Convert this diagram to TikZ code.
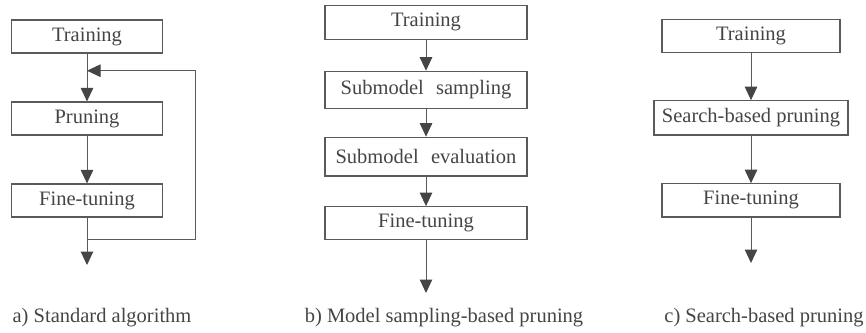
\documentclass[tikz,border=0pt]{standalone}
\usepackage{fontspec}
\setmainfont{Liberation Serif}
\newfontfamily\figserif{Liberation Serif}
\usetikzlibrary{arrows.meta}
\definecolor{inkgray}{HTML}{454545}
\definecolor{linegray}{HTML}{5A5A5A}
\begin{document}
\begin{tikzpicture}[x=1pt,y=-1pt,
  stepbox/.style={draw=linegray,line width=1.2pt,inner sep=0pt,text=inkgray,
    font=\figserif\fontsize{20.5}{22}\selectfont},
  flow/.style={draw=linegray,line width=1pt,
    -{Triangle[length=13.5pt,width=12.5pt,fill=inkgray,color=inkgray]}},
  caption/.style={text=inkgray,font=\figserif\fontsize{20.5}{22}\selectfont,anchor=base}]
\useasboundingbox[fill=white] (0,0) rectangle (866,332);

% a) standard algorithm
\node[stepbox,minimum width=151pt,minimum height=33pt] (a1) at (87,36.5) {Training};
\node[stepbox,minimum width=151pt,minimum height=33pt] (a2) at (87,118.5) {Pruning};
\node[stepbox,minimum width=151pt,minimum height=33pt] (a3) at (87,200.5) {Fine-tuning};
\coordinate (aj) at (a3.south |- 0,239);
\coordinate (ak) at (a1.south |- 0,70.7);
\coordinate (ar) at (195,239);
\coordinate (aend) at (a3.south |- 0,265);
\draw[flow] (a1) -- (a2);
\draw[flow] (a2) -- (a3);
\draw[flow] (a3) -- (aend);
\draw[flow] (aj) -- (ar) |- (ak);
\node[caption] (ca) at (102,322) {a) Standard algorithm};

% b) model sampling-based pruning
\node[stepbox,minimum width=202pt,minimum height=34pt] (b1) at (426,22.3) {Training};
\node[stepbox,minimum width=202pt,minimum height=37pt] (b2) at (426,89.8) {Submodel\hspace{0.6em}sampling};
\node[stepbox,minimum width=202pt,minimum height=38.7pt] (b3) at (426,156.6) {Submodel\hspace{0.6em}evaluation};
\node[stepbox,minimum width=202pt,minimum height=33pt] (b4) at (426,223.2) {Fine-tuning};
\coordinate (bend) at (b4.south |- 0,293);
\draw[flow] (b1) -- (b2);
\draw[flow] (b2) -- (b3);
\draw[flow] (b3) -- (b4);
\draw[flow] (b4) -- (bend);
\node[caption] (cb) at (444,322) {b) Model sampling-based pruning};

% c) search-based pruning
\node[stepbox,minimum width=178pt,minimum height=33.4pt] (c1) at (751,36) {Training};
\node[stepbox,minimum width=194pt,minimum height=34.3pt] (c2) at (751,117.9) {Search-based pruning};
\node[stepbox,minimum width=178pt,minimum height=33.3pt] (c3) at (751,200.4) {Fine-tuning};
\coordinate (cend) at (c3.south |- 0,263);
\draw[flow] (c1) -- (c2);
\draw[flow] (c2) -- (c3);
\draw[flow] (c3) -- (cend);
\node[caption] (cc) at (764,322) {c) Search-based pruning};
\end{tikzpicture}
\end{document}
